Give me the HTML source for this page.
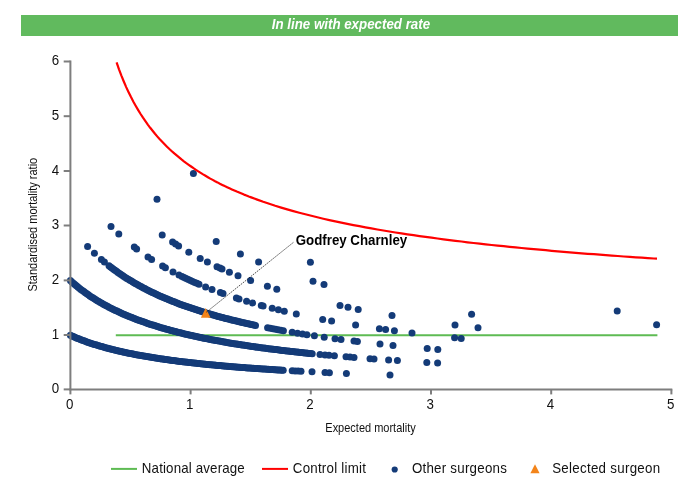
<!DOCTYPE html>
<html><head><meta charset="utf-8"><title>In line with expected rate</title>
<style>
html,body{margin:0;padding:0;background:#fff;}
body{width:700px;height:500px;overflow:hidden;position:relative;font-family:"Liberation Sans",Arial,sans-serif;}
#hdr{position:absolute;left:21px;top:15px;width:657px;height:21px;background:#61BA5E;color:#fff;font-weight:bold;font-style:italic;font-size:13.33px;line-height:19.4px;text-align:center;text-indent:3.8px;}
svg{position:absolute;left:0;top:0;}
svg text{font-family:"Liberation Sans",Arial,sans-serif;}
</style></head><body>
<div id="hdr"></div>
<svg width="700" height="500" viewBox="0 0 700 500">
<text transform="translate(350.9,28.9) scale(1,1.06)" font-size="13.33" font-weight="bold" font-style="italic" fill="#fff" text-anchor="middle">In line with expected rate</text>
<line x1="115.8" y1="335.3" x2="657.4" y2="335.3" stroke="#5EBB53" stroke-width="2"/>
<g fill="#143B78">
<circle cx="70.4" cy="335.3" r="3.5"/>
<circle cx="71.9" cy="336.0" r="3.5"/>
<circle cx="73.4" cy="336.6" r="3.5"/>
<circle cx="74.9" cy="337.3" r="3.5"/>
<circle cx="76.4" cy="337.9" r="3.5"/>
<circle cx="77.9" cy="338.5" r="3.5"/>
<circle cx="79.4" cy="339.1" r="3.5"/>
<circle cx="80.9" cy="339.7" r="3.5"/>
<circle cx="82.4" cy="340.2" r="3.5"/>
<circle cx="83.9" cy="340.8" r="3.5"/>
<circle cx="85.4" cy="341.3" r="3.5"/>
<circle cx="86.9" cy="341.9" r="3.5"/>
<circle cx="88.4" cy="342.4" r="3.5"/>
<circle cx="89.9" cy="342.9" r="3.5"/>
<circle cx="91.4" cy="343.4" r="3.5"/>
<circle cx="92.9" cy="343.9" r="3.5"/>
<circle cx="94.4" cy="344.4" r="3.5"/>
<circle cx="95.9" cy="344.8" r="3.5"/>
<circle cx="97.4" cy="345.3" r="3.5"/>
<circle cx="98.9" cy="345.8" r="3.5"/>
<circle cx="100.4" cy="346.2" r="3.5"/>
<circle cx="101.9" cy="346.6" r="3.5"/>
<circle cx="103.4" cy="347.1" r="3.5"/>
<circle cx="104.9" cy="347.5" r="3.5"/>
<circle cx="106.4" cy="347.9" r="3.5"/>
<circle cx="107.9" cy="348.3" r="3.5"/>
<circle cx="109.4" cy="348.7" r="3.5"/>
<circle cx="110.9" cy="349.1" r="3.5"/>
<circle cx="112.4" cy="349.4" r="3.5"/>
<circle cx="113.9" cy="349.8" r="3.5"/>
<circle cx="115.4" cy="350.2" r="3.5"/>
<circle cx="116.9" cy="350.5" r="3.5"/>
<circle cx="118.4" cy="350.9" r="3.5"/>
<circle cx="119.9" cy="351.2" r="3.5"/>
<circle cx="121.4" cy="351.6" r="3.5"/>
<circle cx="122.9" cy="351.9" r="3.5"/>
<circle cx="124.3" cy="352.2" r="3.5"/>
<circle cx="125.8" cy="352.6" r="3.5"/>
<circle cx="127.3" cy="352.9" r="3.5"/>
<circle cx="128.8" cy="353.2" r="3.5"/>
<circle cx="130.3" cy="353.5" r="3.5"/>
<circle cx="131.8" cy="353.8" r="3.5"/>
<circle cx="133.3" cy="354.1" r="3.5"/>
<circle cx="134.8" cy="354.4" r="3.5"/>
<circle cx="136.3" cy="354.7" r="3.5"/>
<circle cx="137.8" cy="354.9" r="3.5"/>
<circle cx="139.3" cy="355.2" r="3.5"/>
<circle cx="140.8" cy="355.5" r="3.5"/>
<circle cx="142.3" cy="355.8" r="3.5"/>
<circle cx="143.8" cy="356.0" r="3.5"/>
<circle cx="145.3" cy="356.3" r="3.5"/>
<circle cx="146.8" cy="356.5" r="3.5"/>
<circle cx="148.3" cy="356.8" r="3.5"/>
<circle cx="149.8" cy="357.1" r="3.5"/>
<circle cx="151.3" cy="357.3" r="3.5"/>
<circle cx="152.8" cy="357.5" r="3.5"/>
<circle cx="154.3" cy="357.8" r="3.5"/>
<circle cx="155.8" cy="358.0" r="3.5"/>
<circle cx="157.3" cy="358.2" r="3.5"/>
<circle cx="158.8" cy="358.5" r="3.5"/>
<circle cx="160.3" cy="358.7" r="3.5"/>
<circle cx="161.8" cy="358.9" r="3.5"/>
<circle cx="163.3" cy="359.1" r="3.5"/>
<circle cx="164.8" cy="359.4" r="3.5"/>
<circle cx="166.3" cy="359.6" r="3.5"/>
<circle cx="167.8" cy="359.8" r="3.5"/>
<circle cx="169.3" cy="360.0" r="3.5"/>
<circle cx="170.8" cy="360.2" r="3.5"/>
<circle cx="172.3" cy="360.4" r="3.5"/>
<circle cx="173.8" cy="360.6" r="3.5"/>
<circle cx="175.3" cy="360.8" r="3.5"/>
<circle cx="176.8" cy="361.0" r="3.5"/>
<circle cx="178.3" cy="361.2" r="3.5"/>
<circle cx="179.8" cy="361.4" r="3.5"/>
<circle cx="181.3" cy="361.5" r="3.5"/>
<circle cx="182.8" cy="361.7" r="3.5"/>
<circle cx="184.3" cy="361.9" r="3.5"/>
<circle cx="185.8" cy="362.1" r="3.5"/>
<circle cx="187.3" cy="362.3" r="3.5"/>
<circle cx="188.8" cy="362.4" r="3.5"/>
<circle cx="190.3" cy="362.6" r="3.5"/>
<circle cx="191.8" cy="362.8" r="3.5"/>
<circle cx="193.3" cy="362.9" r="3.5"/>
<circle cx="194.8" cy="363.1" r="3.5"/>
<circle cx="196.3" cy="363.3" r="3.5"/>
<circle cx="197.8" cy="363.4" r="3.5"/>
<circle cx="199.3" cy="363.6" r="3.5"/>
<circle cx="200.8" cy="363.8" r="3.5"/>
<circle cx="202.3" cy="363.9" r="3.5"/>
<circle cx="203.8" cy="364.1" r="3.5"/>
<circle cx="205.3" cy="364.2" r="3.5"/>
<circle cx="206.8" cy="364.4" r="3.5"/>
<circle cx="208.3" cy="364.5" r="3.5"/>
<circle cx="209.8" cy="364.7" r="3.5"/>
<circle cx="211.3" cy="364.8" r="3.5"/>
<circle cx="212.8" cy="364.9" r="3.5"/>
<circle cx="214.3" cy="365.1" r="3.5"/>
<circle cx="215.8" cy="365.2" r="3.5"/>
<circle cx="217.3" cy="365.4" r="3.5"/>
<circle cx="218.8" cy="365.5" r="3.5"/>
<circle cx="220.3" cy="365.6" r="3.5"/>
<circle cx="221.8" cy="365.8" r="3.5"/>
<circle cx="223.3" cy="365.9" r="3.5"/>
<circle cx="224.8" cy="366.0" r="3.5"/>
<circle cx="226.3" cy="366.2" r="3.5"/>
<circle cx="227.8" cy="366.3" r="3.5"/>
<circle cx="229.3" cy="366.4" r="3.5"/>
<circle cx="230.7" cy="366.6" r="3.5"/>
<circle cx="232.2" cy="366.7" r="3.5"/>
<circle cx="233.7" cy="366.8" r="3.5"/>
<circle cx="235.2" cy="366.9" r="3.5"/>
<circle cx="236.7" cy="367.0" r="3.5"/>
<circle cx="238.2" cy="367.2" r="3.5"/>
<circle cx="239.7" cy="367.3" r="3.5"/>
<circle cx="241.2" cy="367.4" r="3.5"/>
<circle cx="242.7" cy="367.5" r="3.5"/>
<circle cx="244.2" cy="367.6" r="3.5"/>
<circle cx="245.7" cy="367.7" r="3.5"/>
<circle cx="247.2" cy="367.9" r="3.5"/>
<circle cx="248.7" cy="368.0" r="3.5"/>
<circle cx="250.2" cy="368.1" r="3.5"/>
<circle cx="251.7" cy="368.2" r="3.5"/>
<circle cx="253.2" cy="368.3" r="3.5"/>
<circle cx="254.7" cy="368.4" r="3.5"/>
<circle cx="256.2" cy="368.5" r="3.5"/>
<circle cx="257.7" cy="368.6" r="3.5"/>
<circle cx="259.2" cy="368.7" r="3.5"/>
<circle cx="260.7" cy="368.8" r="3.5"/>
<circle cx="262.2" cy="368.9" r="3.5"/>
<circle cx="263.7" cy="369.0" r="3.5"/>
<circle cx="265.2" cy="369.1" r="3.5"/>
<circle cx="266.7" cy="369.2" r="3.5"/>
<circle cx="268.2" cy="369.3" r="3.5"/>
<circle cx="269.7" cy="369.4" r="3.5"/>
<circle cx="271.2" cy="369.5" r="3.5"/>
<circle cx="272.7" cy="369.6" r="3.5"/>
<circle cx="274.2" cy="369.7" r="3.5"/>
<circle cx="275.7" cy="369.8" r="3.5"/>
<circle cx="277.2" cy="369.9" r="3.5"/>
<circle cx="278.7" cy="370.0" r="3.5"/>
<circle cx="280.2" cy="370.1" r="3.5"/>
<circle cx="281.7" cy="370.2" r="3.5"/>
<circle cx="283.2" cy="370.2" r="3.5"/>
<circle cx="292.2" cy="370.8" r="3.5"/>
<circle cx="295.1" cy="370.9" r="3.5"/>
<circle cx="298.1" cy="371.1" r="3.5"/>
<circle cx="301.0" cy="371.3" r="3.5"/>
<circle cx="312.0" cy="371.8" r="3.5"/>
<circle cx="325.0" cy="372.5" r="3.5"/>
<circle cx="329.4" cy="372.7" r="3.5"/>
<circle cx="346.4" cy="373.4" r="3.5"/>
<circle cx="390.0" cy="375.0" r="3.5"/>
<circle cx="70.4" cy="280.6" r="3.5"/>
<circle cx="71.9" cy="281.9" r="3.5"/>
<circle cx="73.4" cy="283.2" r="3.5"/>
<circle cx="74.9" cy="284.5" r="3.5"/>
<circle cx="76.4" cy="285.8" r="3.5"/>
<circle cx="77.9" cy="287.0" r="3.5"/>
<circle cx="79.4" cy="288.2" r="3.5"/>
<circle cx="80.9" cy="289.4" r="3.5"/>
<circle cx="82.4" cy="290.5" r="3.5"/>
<circle cx="83.9" cy="291.6" r="3.5"/>
<circle cx="85.4" cy="292.7" r="3.5"/>
<circle cx="86.9" cy="293.8" r="3.5"/>
<circle cx="88.4" cy="294.8" r="3.5"/>
<circle cx="89.9" cy="295.9" r="3.5"/>
<circle cx="91.4" cy="296.9" r="3.5"/>
<circle cx="92.9" cy="297.8" r="3.5"/>
<circle cx="94.4" cy="298.8" r="3.5"/>
<circle cx="95.9" cy="299.7" r="3.5"/>
<circle cx="97.4" cy="300.7" r="3.5"/>
<circle cx="98.9" cy="301.6" r="3.5"/>
<circle cx="100.4" cy="302.4" r="3.5"/>
<circle cx="101.9" cy="303.3" r="3.5"/>
<circle cx="103.4" cy="304.2" r="3.5"/>
<circle cx="104.9" cy="305.0" r="3.5"/>
<circle cx="106.4" cy="305.8" r="3.5"/>
<circle cx="107.9" cy="306.6" r="3.5"/>
<circle cx="109.4" cy="307.4" r="3.5"/>
<circle cx="111.0" cy="308.2" r="3.5"/>
<circle cx="112.5" cy="308.9" r="3.5"/>
<circle cx="114.0" cy="309.7" r="3.5"/>
<circle cx="115.5" cy="310.4" r="3.5"/>
<circle cx="117.0" cy="311.1" r="3.5"/>
<circle cx="118.5" cy="311.8" r="3.5"/>
<circle cx="120.0" cy="312.5" r="3.5"/>
<circle cx="121.5" cy="313.2" r="3.5"/>
<circle cx="123.0" cy="313.9" r="3.5"/>
<circle cx="124.5" cy="314.5" r="3.5"/>
<circle cx="126.0" cy="315.2" r="3.5"/>
<circle cx="127.5" cy="315.8" r="3.5"/>
<circle cx="129.0" cy="316.4" r="3.5"/>
<circle cx="130.5" cy="317.0" r="3.5"/>
<circle cx="132.0" cy="317.6" r="3.5"/>
<circle cx="133.5" cy="318.2" r="3.5"/>
<circle cx="135.0" cy="318.8" r="3.5"/>
<circle cx="136.5" cy="319.4" r="3.5"/>
<circle cx="138.0" cy="319.9" r="3.5"/>
<circle cx="139.5" cy="320.5" r="3.5"/>
<circle cx="141.0" cy="321.1" r="3.5"/>
<circle cx="142.5" cy="321.6" r="3.5"/>
<circle cx="144.0" cy="322.1" r="3.5"/>
<circle cx="145.5" cy="322.6" r="3.5"/>
<circle cx="147.0" cy="323.2" r="3.5"/>
<circle cx="148.5" cy="323.7" r="3.5"/>
<circle cx="150.0" cy="324.2" r="3.5"/>
<circle cx="151.5" cy="324.7" r="3.5"/>
<circle cx="153.0" cy="325.1" r="3.5"/>
<circle cx="154.5" cy="325.6" r="3.5"/>
<circle cx="156.0" cy="326.1" r="3.5"/>
<circle cx="157.5" cy="326.5" r="3.5"/>
<circle cx="159.0" cy="327.0" r="3.5"/>
<circle cx="160.5" cy="327.5" r="3.5"/>
<circle cx="162.0" cy="327.9" r="3.5"/>
<circle cx="163.5" cy="328.3" r="3.5"/>
<circle cx="165.0" cy="328.8" r="3.5"/>
<circle cx="166.5" cy="329.2" r="3.5"/>
<circle cx="168.0" cy="329.6" r="3.5"/>
<circle cx="169.5" cy="330.0" r="3.5"/>
<circle cx="171.0" cy="330.4" r="3.5"/>
<circle cx="172.5" cy="330.8" r="3.5"/>
<circle cx="174.0" cy="331.2" r="3.5"/>
<circle cx="175.5" cy="331.6" r="3.5"/>
<circle cx="177.0" cy="332.0" r="3.5"/>
<circle cx="178.5" cy="332.4" r="3.5"/>
<circle cx="180.0" cy="332.8" r="3.5"/>
<circle cx="181.5" cy="333.1" r="3.5"/>
<circle cx="183.0" cy="333.5" r="3.5"/>
<circle cx="184.5" cy="333.9" r="3.5"/>
<circle cx="186.0" cy="334.2" r="3.5"/>
<circle cx="187.5" cy="334.6" r="3.5"/>
<circle cx="189.0" cy="334.9" r="3.5"/>
<circle cx="190.5" cy="335.3" r="3.5"/>
<circle cx="192.1" cy="335.6" r="3.5"/>
<circle cx="193.6" cy="335.9" r="3.5"/>
<circle cx="195.1" cy="336.3" r="3.5"/>
<circle cx="196.6" cy="336.6" r="3.5"/>
<circle cx="198.1" cy="336.9" r="3.5"/>
<circle cx="199.6" cy="337.2" r="3.5"/>
<circle cx="201.1" cy="337.6" r="3.5"/>
<circle cx="202.6" cy="337.9" r="3.5"/>
<circle cx="204.1" cy="338.2" r="3.5"/>
<circle cx="205.6" cy="338.5" r="3.5"/>
<circle cx="207.1" cy="338.8" r="3.5"/>
<circle cx="208.6" cy="339.1" r="3.5"/>
<circle cx="210.1" cy="339.4" r="3.5"/>
<circle cx="211.6" cy="339.7" r="3.5"/>
<circle cx="213.1" cy="340.0" r="3.5"/>
<circle cx="214.6" cy="340.2" r="3.5"/>
<circle cx="216.1" cy="340.5" r="3.5"/>
<circle cx="217.6" cy="340.8" r="3.5"/>
<circle cx="219.1" cy="341.1" r="3.5"/>
<circle cx="220.6" cy="341.3" r="3.5"/>
<circle cx="222.1" cy="341.6" r="3.5"/>
<circle cx="223.6" cy="341.9" r="3.5"/>
<circle cx="225.1" cy="342.1" r="3.5"/>
<circle cx="226.6" cy="342.4" r="3.5"/>
<circle cx="228.1" cy="342.7" r="3.5"/>
<circle cx="229.6" cy="342.9" r="3.5"/>
<circle cx="231.1" cy="343.2" r="3.5"/>
<circle cx="232.6" cy="343.4" r="3.5"/>
<circle cx="234.1" cy="343.7" r="3.5"/>
<circle cx="235.6" cy="343.9" r="3.5"/>
<circle cx="237.1" cy="344.1" r="3.5"/>
<circle cx="238.6" cy="344.4" r="3.5"/>
<circle cx="240.1" cy="344.6" r="3.5"/>
<circle cx="241.6" cy="344.9" r="3.5"/>
<circle cx="243.1" cy="345.1" r="3.5"/>
<circle cx="244.6" cy="345.3" r="3.5"/>
<circle cx="246.1" cy="345.5" r="3.5"/>
<circle cx="247.6" cy="345.8" r="3.5"/>
<circle cx="249.1" cy="346.0" r="3.5"/>
<circle cx="250.6" cy="346.2" r="3.5"/>
<circle cx="252.1" cy="346.4" r="3.5"/>
<circle cx="253.6" cy="346.6" r="3.5"/>
<circle cx="255.1" cy="346.9" r="3.5"/>
<circle cx="256.6" cy="347.1" r="3.5"/>
<circle cx="258.1" cy="347.3" r="3.5"/>
<circle cx="259.6" cy="347.5" r="3.5"/>
<circle cx="261.1" cy="347.7" r="3.5"/>
<circle cx="262.6" cy="347.9" r="3.5"/>
<circle cx="264.1" cy="348.1" r="3.5"/>
<circle cx="265.6" cy="348.3" r="3.5"/>
<circle cx="267.1" cy="348.5" r="3.5"/>
<circle cx="268.6" cy="348.7" r="3.5"/>
<circle cx="270.1" cy="348.9" r="3.5"/>
<circle cx="271.6" cy="349.1" r="3.5"/>
<circle cx="273.2" cy="349.3" r="3.5"/>
<circle cx="274.7" cy="349.5" r="3.5"/>
<circle cx="276.2" cy="349.6" r="3.5"/>
<circle cx="277.7" cy="349.8" r="3.5"/>
<circle cx="279.2" cy="350.0" r="3.5"/>
<circle cx="280.7" cy="350.2" r="3.5"/>
<circle cx="282.2" cy="350.4" r="3.5"/>
<circle cx="283.7" cy="350.6" r="3.5"/>
<circle cx="285.2" cy="350.7" r="3.5"/>
<circle cx="286.7" cy="350.9" r="3.5"/>
<circle cx="288.2" cy="351.1" r="3.5"/>
<circle cx="289.7" cy="351.2" r="3.5"/>
<circle cx="291.2" cy="351.4" r="3.5"/>
<circle cx="292.7" cy="351.6" r="3.5"/>
<circle cx="294.2" cy="351.8" r="3.5"/>
<circle cx="295.7" cy="351.9" r="3.5"/>
<circle cx="297.2" cy="352.1" r="3.5"/>
<circle cx="298.7" cy="352.3" r="3.5"/>
<circle cx="300.2" cy="352.4" r="3.5"/>
<circle cx="301.7" cy="352.6" r="3.5"/>
<circle cx="303.2" cy="352.7" r="3.5"/>
<circle cx="304.7" cy="352.9" r="3.5"/>
<circle cx="306.2" cy="353.0" r="3.5"/>
<circle cx="307.7" cy="353.2" r="3.5"/>
<circle cx="309.2" cy="353.4" r="3.5"/>
<circle cx="310.7" cy="353.5" r="3.5"/>
<circle cx="312.2" cy="353.7" r="3.5"/>
<circle cx="320.0" cy="354.4" r="3.5"/>
<circle cx="325.0" cy="354.9" r="3.5"/>
<circle cx="329.0" cy="355.3" r="3.5"/>
<circle cx="334.4" cy="355.8" r="3.5"/>
<circle cx="346.0" cy="356.8" r="3.5"/>
<circle cx="350.0" cy="357.1" r="3.5"/>
<circle cx="354.0" cy="357.4" r="3.5"/>
<circle cx="370.0" cy="358.7" r="3.5"/>
<circle cx="374.0" cy="359.0" r="3.5"/>
<circle cx="388.6" cy="360.0" r="3.5"/>
<circle cx="397.4" cy="360.6" r="3.5"/>
<circle cx="426.8" cy="362.4" r="3.5"/>
<circle cx="437.6" cy="363.0" r="3.5"/>
<circle cx="87.6" cy="246.4" r="3.5"/>
<circle cx="94.4" cy="253.2" r="3.5"/>
<circle cx="101.4" cy="259.5" r="3.5"/>
<circle cx="104.4" cy="262.0" r="3.5"/>
<circle cx="109.0" cy="265.7" r="3.5"/>
<circle cx="110.5" cy="266.9" r="3.5"/>
<circle cx="112.0" cy="268.0" r="3.5"/>
<circle cx="113.5" cy="269.2" r="3.5"/>
<circle cx="115.0" cy="270.3" r="3.5"/>
<circle cx="116.5" cy="271.3" r="3.5"/>
<circle cx="118.0" cy="272.4" r="3.5"/>
<circle cx="119.5" cy="273.4" r="3.5"/>
<circle cx="121.0" cy="274.4" r="3.5"/>
<circle cx="122.5" cy="275.4" r="3.5"/>
<circle cx="123.9" cy="276.4" r="3.5"/>
<circle cx="125.4" cy="277.4" r="3.5"/>
<circle cx="126.9" cy="278.4" r="3.5"/>
<circle cx="128.4" cy="279.3" r="3.5"/>
<circle cx="129.9" cy="280.2" r="3.5"/>
<circle cx="131.4" cy="281.1" r="3.5"/>
<circle cx="132.9" cy="282.0" r="3.5"/>
<circle cx="134.4" cy="282.9" r="3.5"/>
<circle cx="135.9" cy="283.7" r="3.5"/>
<circle cx="137.4" cy="284.6" r="3.5"/>
<circle cx="138.9" cy="285.4" r="3.5"/>
<circle cx="140.4" cy="286.3" r="3.5"/>
<circle cx="141.9" cy="287.1" r="3.5"/>
<circle cx="143.4" cy="287.9" r="3.5"/>
<circle cx="144.9" cy="288.6" r="3.5"/>
<circle cx="146.4" cy="289.4" r="3.5"/>
<circle cx="147.9" cy="290.2" r="3.5"/>
<circle cx="149.4" cy="290.9" r="3.5"/>
<circle cx="150.9" cy="291.7" r="3.5"/>
<circle cx="152.4" cy="292.4" r="3.5"/>
<circle cx="153.8" cy="293.1" r="3.5"/>
<circle cx="155.3" cy="293.8" r="3.5"/>
<circle cx="156.8" cy="294.5" r="3.5"/>
<circle cx="158.3" cy="295.2" r="3.5"/>
<circle cx="159.8" cy="295.9" r="3.5"/>
<circle cx="161.3" cy="296.5" r="3.5"/>
<circle cx="162.8" cy="297.2" r="3.5"/>
<circle cx="164.3" cy="297.8" r="3.5"/>
<circle cx="165.8" cy="298.5" r="3.5"/>
<circle cx="167.3" cy="299.1" r="3.5"/>
<circle cx="168.8" cy="299.7" r="3.5"/>
<circle cx="170.3" cy="300.3" r="3.5"/>
<circle cx="171.8" cy="301.0" r="3.5"/>
<circle cx="173.3" cy="301.5" r="3.5"/>
<circle cx="174.8" cy="302.1" r="3.5"/>
<circle cx="176.3" cy="302.7" r="3.5"/>
<circle cx="177.8" cy="303.3" r="3.5"/>
<circle cx="179.3" cy="303.9" r="3.5"/>
<circle cx="180.8" cy="304.4" r="3.5"/>
<circle cx="182.2" cy="305.0" r="3.5"/>
<circle cx="183.7" cy="305.5" r="3.5"/>
<circle cx="185.2" cy="306.0" r="3.5"/>
<circle cx="186.7" cy="306.6" r="3.5"/>
<circle cx="188.2" cy="307.1" r="3.5"/>
<circle cx="189.7" cy="307.6" r="3.5"/>
<circle cx="191.2" cy="308.1" r="3.5"/>
<circle cx="192.7" cy="308.6" r="3.5"/>
<circle cx="194.2" cy="309.1" r="3.5"/>
<circle cx="195.7" cy="309.6" r="3.5"/>
<circle cx="197.2" cy="310.1" r="3.5"/>
<circle cx="198.7" cy="310.6" r="3.5"/>
<circle cx="200.2" cy="311.1" r="3.5"/>
<circle cx="201.7" cy="311.5" r="3.5"/>
<circle cx="203.2" cy="312.0" r="3.5"/>
<circle cx="204.7" cy="312.5" r="3.5"/>
<circle cx="206.2" cy="312.9" r="3.5"/>
<circle cx="207.7" cy="313.4" r="3.5"/>
<circle cx="209.2" cy="313.8" r="3.5"/>
<circle cx="210.7" cy="314.2" r="3.5"/>
<circle cx="212.1" cy="314.7" r="3.5"/>
<circle cx="213.6" cy="315.1" r="3.5"/>
<circle cx="215.1" cy="315.5" r="3.5"/>
<circle cx="216.6" cy="315.9" r="3.5"/>
<circle cx="218.1" cy="316.4" r="3.5"/>
<circle cx="219.6" cy="316.8" r="3.5"/>
<circle cx="221.1" cy="317.2" r="3.5"/>
<circle cx="222.6" cy="317.6" r="3.5"/>
<circle cx="224.1" cy="318.0" r="3.5"/>
<circle cx="225.6" cy="318.4" r="3.5"/>
<circle cx="227.1" cy="318.7" r="3.5"/>
<circle cx="228.6" cy="319.1" r="3.5"/>
<circle cx="230.1" cy="319.5" r="3.5"/>
<circle cx="231.6" cy="319.9" r="3.5"/>
<circle cx="233.1" cy="320.2" r="3.5"/>
<circle cx="234.6" cy="320.6" r="3.5"/>
<circle cx="236.1" cy="321.0" r="3.5"/>
<circle cx="237.6" cy="321.3" r="3.5"/>
<circle cx="239.1" cy="321.7" r="3.5"/>
<circle cx="240.6" cy="322.0" r="3.5"/>
<circle cx="242.0" cy="322.4" r="3.5"/>
<circle cx="243.5" cy="322.7" r="3.5"/>
<circle cx="245.0" cy="323.1" r="3.5"/>
<circle cx="246.5" cy="323.4" r="3.5"/>
<circle cx="248.0" cy="323.7" r="3.5"/>
<circle cx="249.5" cy="324.1" r="3.5"/>
<circle cx="251.0" cy="324.4" r="3.5"/>
<circle cx="252.5" cy="324.7" r="3.5"/>
<circle cx="254.0" cy="325.1" r="3.5"/>
<circle cx="255.5" cy="325.4" r="3.5"/>
<circle cx="267.6" cy="327.8" r="3.5"/>
<circle cx="270.2" cy="328.3" r="3.5"/>
<circle cx="272.9" cy="328.8" r="3.5"/>
<circle cx="275.5" cy="329.3" r="3.5"/>
<circle cx="278.1" cy="329.8" r="3.5"/>
<circle cx="280.8" cy="330.3" r="3.5"/>
<circle cx="283.4" cy="330.8" r="3.5"/>
<circle cx="292.2" cy="332.3" r="3.5"/>
<circle cx="297.5" cy="333.2" r="3.5"/>
<circle cx="302.5" cy="334.0" r="3.5"/>
<circle cx="306.9" cy="334.7" r="3.5"/>
<circle cx="314.4" cy="335.8" r="3.5"/>
<circle cx="324.2" cy="337.2" r="3.5"/>
<circle cx="335.0" cy="338.7" r="3.5"/>
<circle cx="341.0" cy="339.5" r="3.5"/>
<circle cx="354.0" cy="341.1" r="3.5"/>
<circle cx="357.4" cy="341.5" r="3.5"/>
<circle cx="380.0" cy="344.1" r="3.5"/>
<circle cx="393.0" cy="345.4" r="3.5"/>
<circle cx="427.2" cy="348.6" r="3.5"/>
<circle cx="437.8" cy="349.5" r="3.5"/>
<circle cx="111.0" cy="226.4" r="3.5"/>
<circle cx="118.8" cy="234.0" r="3.5"/>
<circle cx="134.3" cy="247.1" r="3.5"/>
<circle cx="136.6" cy="248.9" r="3.5"/>
<circle cx="148.0" cy="257.0" r="3.5"/>
<circle cx="151.6" cy="259.4" r="3.5"/>
<circle cx="162.6" cy="266.1" r="3.5"/>
<circle cx="165.4" cy="267.7" r="3.5"/>
<circle cx="173.0" cy="271.9" r="3.5"/>
<circle cx="179.0" cy="275.0" r="3.5"/>
<circle cx="182.0" cy="276.5" r="3.5"/>
<circle cx="184.1" cy="277.5" r="3.5"/>
<circle cx="186.2" cy="278.5" r="3.5"/>
<circle cx="188.4" cy="279.5" r="3.5"/>
<circle cx="190.5" cy="280.5" r="3.5"/>
<circle cx="192.6" cy="281.5" r="3.5"/>
<circle cx="194.8" cy="282.4" r="3.5"/>
<circle cx="196.9" cy="283.3" r="3.5"/>
<circle cx="199.0" cy="284.3" r="3.5"/>
<circle cx="205.6" cy="287.0" r="3.5"/>
<circle cx="212.0" cy="289.5" r="3.5"/>
<circle cx="220.4" cy="292.6" r="3.5"/>
<circle cx="223.0" cy="293.6" r="3.5"/>
<circle cx="236.4" cy="298.1" r="3.5"/>
<circle cx="239.0" cy="298.9" r="3.5"/>
<circle cx="246.6" cy="301.2" r="3.5"/>
<circle cx="252.6" cy="303.0" r="3.5"/>
<circle cx="261.3" cy="305.4" r="3.5"/>
<circle cx="263.1" cy="305.9" r="3.5"/>
<circle cx="272.2" cy="308.3" r="3.5"/>
<circle cx="278.4" cy="309.8" r="3.5"/>
<circle cx="284.3" cy="311.3" r="3.5"/>
<circle cx="296.3" cy="314.0" r="3.5"/>
<circle cx="322.7" cy="319.4" r="3.5"/>
<circle cx="331.6" cy="321.0" r="3.5"/>
<circle cx="355.6" cy="325.1" r="3.5"/>
<circle cx="379.4" cy="328.7" r="3.5"/>
<circle cx="385.6" cy="329.6" r="3.5"/>
<circle cx="394.4" cy="330.8" r="3.5"/>
<circle cx="412.0" cy="333.0" r="3.5"/>
<circle cx="454.6" cy="337.8" r="3.5"/>
<circle cx="461.2" cy="338.5" r="3.5"/>
<circle cx="162.2" cy="234.9" r="3.5"/>
<circle cx="172.6" cy="242.1" r="3.5"/>
<circle cx="175.6" cy="244.1" r="3.5"/>
<circle cx="178.6" cy="246.0" r="3.5"/>
<circle cx="188.8" cy="252.2" r="3.5"/>
<circle cx="200.2" cy="258.5" r="3.5"/>
<circle cx="207.4" cy="262.1" r="3.5"/>
<circle cx="217.0" cy="266.7" r="3.5"/>
<circle cx="220.0" cy="268.1" r="3.5"/>
<circle cx="222.0" cy="269.0" r="3.5"/>
<circle cx="229.4" cy="272.2" r="3.5"/>
<circle cx="238.0" cy="275.7" r="3.5"/>
<circle cx="250.6" cy="280.5" r="3.5"/>
<circle cx="267.4" cy="286.3" r="3.5"/>
<circle cx="276.8" cy="289.3" r="3.5"/>
<circle cx="340.0" cy="305.6" r="3.5"/>
<circle cx="348.0" cy="307.3" r="3.5"/>
<circle cx="358.2" cy="309.4" r="3.5"/>
<circle cx="392.0" cy="315.6" r="3.5"/>
<circle cx="455.0" cy="324.9" r="3.5"/>
<circle cx="478.0" cy="327.7" r="3.5"/>
<circle cx="157.0" cy="199.2" r="3.5"/>
<circle cx="216.2" cy="241.6" r="3.5"/>
<circle cx="240.4" cy="254.0" r="3.5"/>
<circle cx="258.6" cy="262.0" r="3.5"/>
<circle cx="313.0" cy="281.2" r="3.5"/>
<circle cx="324.0" cy="284.4" r="3.5"/>
<circle cx="471.6" cy="314.3" r="3.5"/>
<circle cx="310.4" cy="262.2" r="3.5"/>
<circle cx="656.6" cy="324.8" r="3.5"/>
<circle cx="193.4" cy="173.6" r="3.5"/>
<circle cx="617.2" cy="311.1" r="3.5"/>
</g>
<g stroke="#7e7e7e" stroke-width="2" fill="none">
<line x1="70.4" y1="60.55" x2="70.4" y2="390.3"/>
<line x1="69.5" y1="389.4" x2="672.3" y2="389.4"/>
<line x1="63.7" x2="70.4" y1="389.4" y2="389.4"/><line x1="63.7" x2="70.4" y1="335.0" y2="335.0"/><line x1="63.7" x2="70.4" y1="280.4" y2="280.4"/><line x1="63.7" x2="70.4" y1="225.5" y2="225.5"/><line x1="63.7" x2="70.4" y1="171.0" y2="171.0"/><line x1="63.7" x2="70.4" y1="116.2" y2="116.2"/><line x1="63.7" x2="70.4" y1="61.5" y2="61.5"/>
<line y1="389.4" y2="394.4" x1="70.4" x2="70.4"/><line y1="389.4" y2="394.4" x1="190.6" x2="190.6"/><line y1="389.4" y2="394.4" x1="310.8" x2="310.8"/><line y1="389.4" y2="394.4" x1="431.0" x2="431.0"/><line y1="389.4" y2="394.4" x1="551.2" x2="551.2"/><line y1="389.4" y2="394.4" x1="671.4" x2="671.4"/>
</g>
<g font-size="13.33" fill="#111">
<text transform="translate(59.1,393.0) scale(1,1.12)" text-anchor="end">0</text><text transform="translate(59.1,338.6) scale(1,1.12)" text-anchor="end">1</text><text transform="translate(59.1,284.0) scale(1,1.12)" text-anchor="end">2</text><text transform="translate(59.1,229.1) scale(1,1.12)" text-anchor="end">3</text><text transform="translate(59.1,174.6) scale(1,1.12)" text-anchor="end">4</text><text transform="translate(59.1,119.8) scale(1,1.12)" text-anchor="end">5</text><text transform="translate(59.1,65.1) scale(1,1.12)" text-anchor="end">6</text>
<text transform="translate(69.6,408.9) scale(1,1.12)" text-anchor="middle">0</text><text transform="translate(189.8,408.9) scale(1,1.12)" text-anchor="middle">1</text><text transform="translate(310.0,408.9) scale(1,1.12)" text-anchor="middle">2</text><text transform="translate(430.2,408.9) scale(1,1.12)" text-anchor="middle">3</text><text transform="translate(550.4,408.9) scale(1,1.12)" text-anchor="middle">4</text><text transform="translate(670.6,408.9) scale(1,1.12)" text-anchor="middle">5</text>
</g>
<path d="M116.6 62.4 L119.0 69.3 L121.4 75.6 L123.8 81.5 L126.2 87.1 L128.6 92.2 L131.0 97.1 L133.4 101.7 L135.8 106.0 L138.2 110.1 L140.6 114.0 L143.0 117.7 L145.4 121.2 L147.8 124.6 L150.2 127.8 L152.6 130.8 L155.0 133.8 L157.4 136.6 L159.8 139.3 L162.2 141.8 L164.6 144.3 L167.0 146.7 L169.4 149.0 L171.8 151.2 L174.3 153.4 L176.7 155.4 L179.1 157.4 L181.5 159.4 L183.9 161.3 L186.3 163.1 L188.7 164.8 L191.1 166.5 L193.5 168.2 L195.9 169.8 L198.3 171.4 L200.7 172.9 L203.1 174.4 L205.5 175.8 L207.9 177.2 L210.3 178.6 L212.7 179.9 L215.1 181.2 L217.5 182.4 L219.9 183.7 L222.3 184.9 L224.7 186.1 L227.1 187.2 L229.5 188.3 L231.9 189.4 L234.4 190.5 L236.8 191.6 L239.2 192.6 L241.6 193.6 L244.0 194.6 L246.4 195.5 L248.8 196.5 L251.2 197.4 L257.2 199.6 L263.2 201.8 L269.2 203.8 L275.2 205.8 L281.2 207.6 L287.2 209.4 L293.3 211.1 L299.3 212.7 L305.3 214.3 L311.3 215.8 L317.3 217.3 L323.3 218.7 L329.3 220.1 L335.3 221.4 L341.3 222.7 L347.3 223.9 L353.4 225.1 L359.4 226.2 L365.4 227.3 L371.4 228.4 L377.4 229.5 L383.4 230.5 L389.4 231.5 L395.4 232.5 L401.4 233.4 L407.4 234.3 L413.5 235.2 L419.5 236.1 L425.5 236.9 L431.5 237.7 L437.5 238.5 L443.5 239.3 L449.5 240.1 L455.5 240.8 L461.5 241.5 L467.5 242.3 L473.6 243.0 L479.6 243.6 L485.6 244.3 L491.6 245.0 L497.6 245.6 L503.6 246.2 L509.6 246.8 L515.6 247.4 L521.6 248.0 L527.6 248.6 L533.7 249.2 L539.7 249.7 L545.7 250.2 L551.7 250.8 L557.7 251.3 L563.7 251.8 L569.7 252.3 L575.7 252.8 L581.7 253.3 L587.7 253.8 L593.8 254.2 L599.8 254.7 L605.8 255.2 L611.8 255.6 L617.8 256.0 L623.8 256.5 L629.8 256.9 L635.8 257.3 L641.8 257.7 L647.8 258.1 L653.9 258.5 L657.0 258.7" stroke="#FF0000" stroke-width="2.2" fill="none" stroke-linejoin="round"/>
<polygon points="205.7,307.9 210.6,317.7 200.9,317.7" fill="#F3841A"/>
<line x1="206.3" y1="312.2" x2="293.9" y2="242.0" stroke="#111" stroke-width="0.75" stroke-dasharray="1.6 1"/>
<text transform="translate(295.8,244.9) scale(1,1.04)" font-size="13.33" font-weight="bold" fill="#000" textLength="111.4">Godfrey Charnley</text>
<text transform="translate(370.5,431.8) scale(1,1.08)" font-size="11" text-anchor="middle" fill="#111">Expected mortality</text>
<text transform="translate(36.5,224.7) rotate(-90) scale(1,1.08)" font-size="11" text-anchor="middle" fill="#111">Standardised mortality ratio</text>
<g font-size="13.33" fill="#111">
<line x1="111" y1="468.9" x2="137" y2="468.9" stroke="#5EBB53" stroke-width="2"/>
<text transform="translate(141.8,472.75) scale(1,1.05)" textLength="103">National average</text>
<line x1="262" y1="468.9" x2="288" y2="468.9" stroke="#FF0000" stroke-width="2"/>
<text transform="translate(292.8,472.75) scale(1,1.05)" textLength="73.1">Control limit</text>
<circle cx="394.7" cy="469.5" r="3.1" fill="#143B78"/>
<text transform="translate(411.9,472.75) scale(1,1.05)" textLength="95">Other surgeons</text>
<polygon points="535,464.3 539.6,473.3 530.4,473.3" fill="#F3841A"/>
<text transform="translate(552.2,472.75) scale(1,1.05)" textLength="108">Selected surgeon</text>
</g>
</svg>
</body></html>
